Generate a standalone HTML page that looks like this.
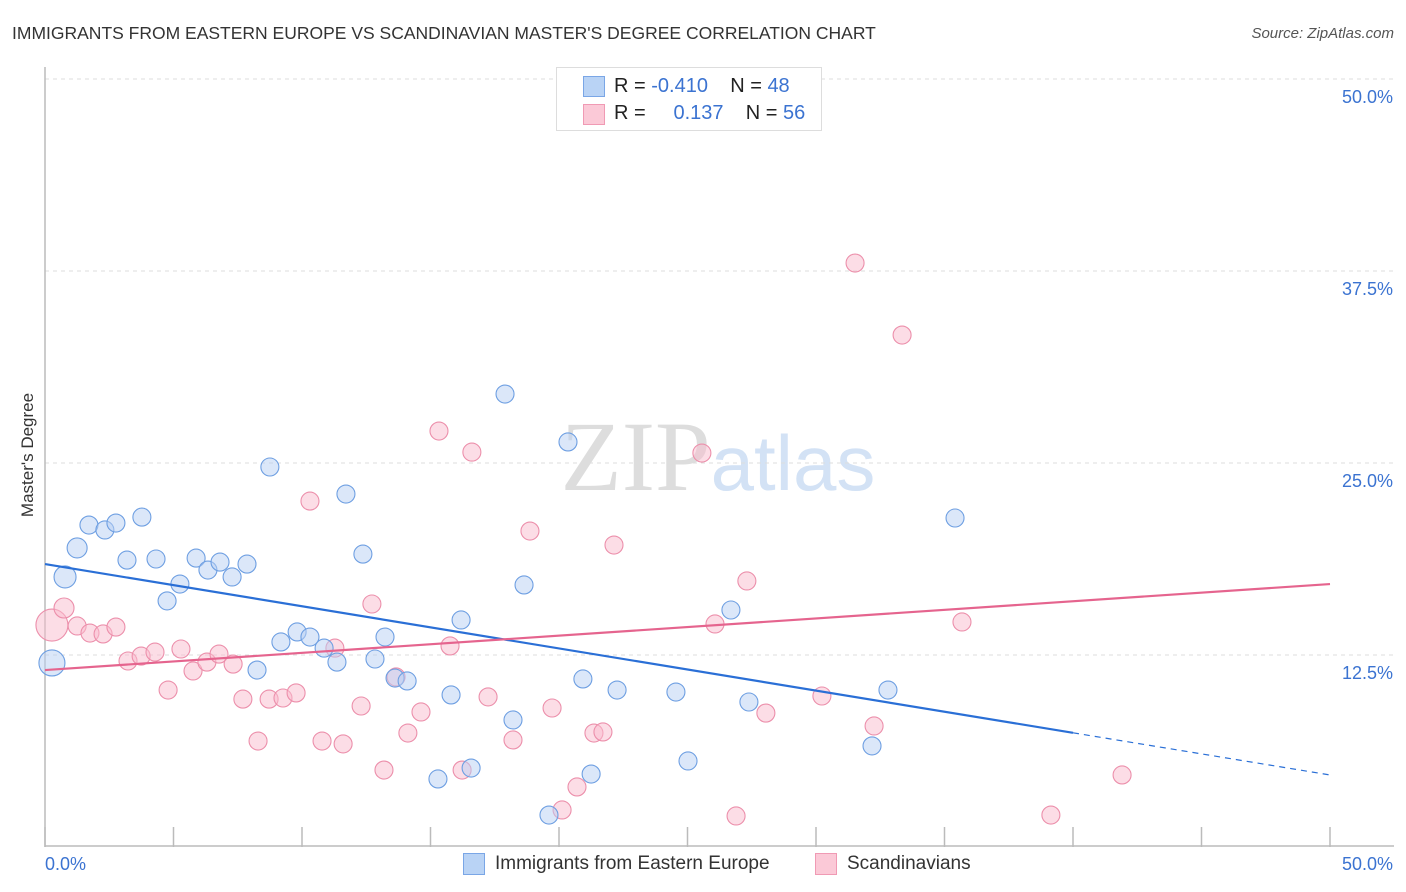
<!DOCTYPE html>
<html><head><meta charset="utf-8"><style>
body{margin:0;background:#fff;font-family:"Liberation Sans",sans-serif}
#wrap{position:relative;width:1406px;height:892px;overflow:hidden}
.t{position:absolute;white-space:nowrap}
</style></head><body><div id="wrap">
<div class="t" style="left:12px;top:23px;font-size:17.5px;color:#333">IMMIGRANTS FROM EASTERN EUROPE VS SCANDINAVIAN MASTER'S DEGREE CORRELATION CHART</div>
<div class="t" style="right:12px;top:25px;font-size:15px;color:#555;font-style:italic">Source: ZipAtlas.com</div>
<div class="t" style="left:-34px;top:445px;font-size:17px;color:#333;transform:rotate(-90deg)">Master's Degree</div>
<svg id="svg" width="1406" height="892" style="position:absolute;left:0;top:0"></svg>
<div style="position:absolute;left:556px;top:67px;width:264px;height:62px;border:1px solid #ddd;background:#fff;font-size:20px">
<div style="position:absolute;left:26px;top:8px;width:20px;height:19px;background:#b9d3f5;border:1px solid #7aa6e6"></div>
<div style="position:absolute;left:26px;top:36px;width:20px;height:19px;background:#fbc9d7;border:1px solid #f09ab4"></div>
<div class="t" style="left:57px;top:7px;color:#222">R = <span style="color:#3b73d1">-0.410</span>&nbsp;&nbsp;&nbsp;&nbsp;N = <span style="color:#3b73d1">48</span></div>
<div class="t" style="left:57px;top:34px;color:#222">R = &nbsp;&nbsp;&nbsp;&nbsp;<span style="color:#3b73d1">0.137</span>&nbsp;&nbsp;&nbsp;&nbsp;N = <span style="color:#3b73d1">56</span></div>
</div>
<div style="position:absolute;left:463px;top:853px;width:20px;height:20px;background:#b9d3f5;border:1px solid #7aa6e6"></div>
<div class="t" style="left:495px;top:853px;font-size:19px;color:#333">Immigrants from Eastern Europe</div>
<div style="position:absolute;left:815px;top:853px;width:20px;height:20px;background:#fbc9d7;border:1px solid #f09ab4"></div>
<div class="t" style="left:847px;top:853px;font-size:19px;color:#333">Scandinavians</div>
</div>
<script>
const blueX=[0.27,0.78,1.25,1.71,2.33,2.76,3.19,3.77,4.32,4.75,5.25,5.88,6.34,6.81,7.28,7.86,8.25,8.75,9.18,9.81,10.31,10.86,11.36,11.71,12.37,12.84,13.23,13.62,14.09,15.29,15.80,16.19,16.58,17.90,18.21,18.64,19.61,20.35,20.93,21.25,22.26,24.55,25.02,26.69,27.39,32.18,32.80,35.41];
const blueY=[11.98,17.58,19.47,20.96,20.64,21.09,18.68,21.48,18.75,16.02,17.12,18.81,18.03,18.55,17.58,18.42,11.52,24.74,13.35,14.00,13.67,12.95,12.04,22.98,19.07,12.24,13.67,11.00,10.81,4.43,9.90,14.78,5.14,29.49,8.27,17.06,2.08,26.37,10.94,4.75,10.22,10.09,5.60,15.43,9.44,6.58,10.22,21.42];
const blueR=[13,11,10,9,9,9,9,9,9,9,9,9,9,9,9,9,9,9,9,9,9,9,9,9,9,9,9,9,9,9,9,9,9,9,9,9,9,9,9,9,9,9,9,9,9,9,9,9];
const pinkX=[0.27,0.74,1.25,1.75,2.26,2.76,3.23,3.74,4.28,4.79,5.29,5.76,6.30,6.77,7.32,7.70,8.29,8.72,9.26,9.77,10.31,10.78,11.28,11.60,12.30,12.72,13.19,13.66,14.12,14.63,15.33,15.76,16.23,16.61,17.24,18.21,18.87,19.73,20.12,20.70,21.36,21.71,22.14,25.56,26.07,26.89,27.31,28.05,28.60,30.23,31.52,32.26,33.35,35.68,39.14,41.91];
const pinkY=[14.45,15.56,14.39,13.93,13.87,14.32,12.11,12.43,12.69,10.22,12.89,11.46,12.04,12.56,11.91,9.63,6.90,9.63,9.70,10.03,22.52,6.90,12.95,6.71,9.18,15.82,5.01,11.07,7.42,8.79,27.08,13.09,5.01,25.71,9.77,6.97,20.57,9.05,2.41,3.91,7.42,7.49,19.66,25.65,14.52,2.02,17.32,8.72,50.0,9.83,38.02,7.88,33.33,14.65,2.08,4.69];
const pinkR=[16,10,9,9,9,9,9,9,9,9,9,9,9,9,9,9,9,9,9,9,9,9,9,9,9,9,9,9,9,9,9,9,9,9,9,9,9,9,9,9,9,9,9,9,9,9,9,9,9,9,9,9,9,9,9,9];
const blueTrend=[18.42,4.69]; const blueSolidEnd=40;
const pinkTrend=[11.52,17.12];
const yTicks=[12.5,25.0,37.5,50.0];
const xTickLabels=["0.0%","50.0%"];
const X0=45,X1=1330,Y0=847,PPU=15.36;
const sx=v=>X0+(v/50)*(X1-X0), sy=v=>Y0-v*PPU;
const svg=document.getElementById('svg'),NS='http://www.w3.org/2000/svg';
function mk(t,a){const e=document.createElementNS(NS,t);for(const k in a)e.setAttribute(k,a[k]);svg.appendChild(e);return e;}
let w=mk('text',{x:718,y:490,'text-anchor':'middle','font-size':100,'font-family':'Liberation Serif,serif',fill:'#ddd'});


w.innerHTML='ZIP<tspan fill="#d3e2f5" font-family="Liberation Sans,sans-serif" font-size="78">atlas</tspan>';
yTicks.forEach(v=>{
 const g=mk('line',{x1:X0,x2:1394,y1:sy(v),y2:sy(v),stroke:'#ddd','stroke-dasharray':'4,4'});
 
 
 const t=mk('text',{x:1393,y:sy(v)+24,'text-anchor':'end','font-size':18,fill:'#3b73d1','font-family':'Liberation Sans,sans-serif'});
 
 
 t.textContent=v.toFixed(1)+'%';
});
let ax=mk('line',{x1:X0,x2:X0,y1:67,y2:Y0,stroke:'#bbb','stroke-width':1.5});


let bx=mk('line',{x1:X0,x2:1394,y1:Y0-1,y2:Y0-1,stroke:'#bbb','stroke-width':1.5});


for(let i=0;i<=10;i++){const l=mk('line',{x1:sx(i*5),x2:sx(i*5),y1:827,y2:Y0,stroke:'#bbb','stroke-width':1.5});
 
 }
[[0,'start',45],[50,'end',1393]].forEach((d,i)=>{const t=mk('text',{x:d[2],y:870,'text-anchor':d[1],'font-size':18,fill:'#3b73d1','font-family':'Liberation Sans,sans-serif'});
 
 
 t.textContent=xTickLabels[i];});
function pts(X,Y,R,fill,stroke,name){X.forEach((x,i)=>{const c=mk('circle',{cx:sx(x),cy:sy(Y[i]),r:R[i],fill:fill,stroke:stroke,'stroke-width':1.1,'fill-opacity':0.5});
 
 });}
pts(pinkX,pinkY,pinkR,'#f9bccd','#ec8fab','scandinavian-point');
pts(blueX,blueY,blueR,'#b7d0f3','#6e9fe2','eastern-europe-point');
const bm=blueTrend[0]+(blueTrend[1]-blueTrend[0])*blueSolidEnd/50;
let l1=mk('line',{x1:sx(0),y1:sy(blueTrend[0]),x2:sx(blueSolidEnd),y2:sy(bm),stroke:'#2a6fd6','stroke-width':2.2});


let l2=mk('line',{x1:sx(blueSolidEnd),y1:sy(bm),x2:sx(50),y2:sy(blueTrend[1]),stroke:'#2a6fd6','stroke-width':1.2,'stroke-dasharray':'6,5'});


let l3=mk('line',{x1:sx(0),y1:sy(pinkTrend[0]),x2:sx(50),y2:sy(pinkTrend[1]),stroke:'#e5648e','stroke-width':2.2});


</script></body></html>
